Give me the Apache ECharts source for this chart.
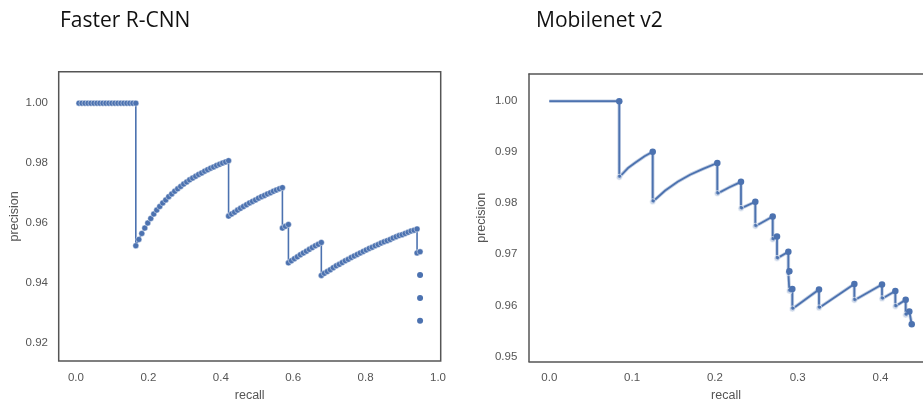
<!DOCTYPE html>
<html>
<head>
<meta charset="utf-8">
<script src="https://cdn.jsdelivr.net/npm/echarts@6/dist/echarts.min.js"></script>
<style>
html,body{margin:0;padding:0;background:#fff;}
#chart{width:923px;height:407px;}
</style>
</head>
<body>
<div id="chart"></div>
<script>
// ---------- Data ----------
const titles = ["Faster R-CNN", "Mobilenet v2"];
const xAxisName = "recall";
const yAxisName = "precision";

// Faster R-CNN: connected precision/recall points
const fasterRecall = [
0.0083,0.0165,0.0248,0.0331,0.0413,0.0496,0.0579,0.0661,0.0744,0.0826,0.0909,0.0992,0.1074,0.1157,0.1240,0.1322,0.1405,0.1488,0.1570,0.1653,
0.1653,
0.1736,0.1818,0.1901,0.1983,0.2066,0.2149,0.2231,0.2314,0.2397,0.2479,0.2562,0.2645,0.2727,0.2810,0.2893,0.2975,0.3058,0.3140,0.3223,0.3306,0.3388,0.3471,0.3554,0.3636,0.3719,0.3802,0.3884,0.3967,0.4050,0.4132,0.4215,
0.4215,
0.4298,0.4380,0.4463,0.4545,0.4628,0.4711,0.4793,0.4876,0.4959,0.5041,0.5124,0.5207,0.5289,0.5372,0.5455,0.5537,0.5620,0.5702,
0.5702,
0.5785,0.5868,
0.5868,
0.5950,0.6033,0.6116,0.6198,0.6281,0.6364,0.6446,0.6529,0.6612,0.6694,0.6777,
0.6777,
0.6860,0.6942,0.7025,0.7107,0.7190,0.7273,0.7355,0.7438,0.7521,0.7603,0.7686,0.7769,0.7851,0.7934,0.8017,0.8099,0.8182,0.8264,0.8347,0.8430,0.8512,0.8595,0.8678,0.8760,0.8843,0.8926,0.9008,0.9091,0.9174,0.9256,0.9339,0.9421,
0.9421,
0.9504
];
const fasterPrecision = [
1,1,1,1,1,1,1,1,1,1,1,1,1,1,1,1,1,1,1,1,
0.9524,
0.9545,0.9565,0.9583,0.9600,0.9615,0.9630,0.9643,0.9655,0.9667,0.9677,0.9688,0.9697,0.9706,0.9714,0.9722,0.9730,0.9737,0.9744,0.9750,0.9756,0.9762,0.9767,0.9773,0.9778,0.9783,0.9787,0.9792,0.9796,0.9800,0.9804,0.9808,
0.9623,
0.9630,0.9636,0.9643,0.9649,0.9655,0.9661,0.9667,0.9672,0.9677,0.9683,0.9688,0.9692,0.9697,0.9701,0.9706,0.9710,0.9714,0.9718,
0.9583,
0.9589,0.9595,
0.9467,
0.9474,0.9481,0.9487,0.9494,0.9500,0.9506,0.9512,0.9518,0.9524,0.9529,0.9535,
0.9425,
0.9432,0.9438,0.9444,0.9451,0.9457,0.9462,0.9468,0.9474,0.9479,0.9485,0.9490,0.9495,0.9500,0.9505,0.9510,0.9515,0.9519,0.9524,0.9528,0.9533,0.9537,0.9541,0.9545,0.9550,0.9554,0.9558,0.9561,0.9565,0.9569,0.9573,0.9576,0.9580,
0.9500,
0.9504
];
// Faster R-CNN: trailing unconnected points
const fasterTailRecall = [0.9504, 0.9504, 0.9504];
const fasterTailPrecision = [0.9426, 0.9350, 0.9274];

// Mobilenet v2
const mobRecall = [
0.0000, 0.0845, 0.0845, 0.0950, 0.1050, 0.1150, 0.1249, 0.1249, 0.1400, 0.1550, 0.1700, 0.1850, 0.2029,
0.2029, 0.2170, 0.2315, 0.2315, 0.2488, 0.2488, 0.2698, 0.2698, 0.2750, 0.2750, 0.2887, 0.2887, 0.2899,
0.2899, 0.2935, 0.2935, 0.3257, 0.3257, 0.3684, 0.3684, 0.4018, 0.4018, 0.4179, 0.4179, 0.4304, 0.4304,
0.4348, 0.4377
];
const mobPrecision = [
1.0000, 1.0000, 0.9851, 0.9869, 0.9881, 0.9892, 0.9901, 0.9803, 0.9825, 0.9842, 0.9856, 0.9867, 0.9879,
0.9819, 0.9831, 0.9842, 0.9790, 0.9803, 0.9755, 0.9774, 0.9729, 0.9735, 0.9692, 0.9705, 0.9664, 0.9667,
0.9628, 0.9632, 0.9593, 0.9631, 0.9595, 0.9642, 0.9610, 0.9641, 0.9613, 0.9628, 0.9598, 0.9611, 0.9581,
0.9588, 0.9563
];
// indices of the points that carry a visible marker
const mobPeakIdx = [1, 6, 12, 15, 17, 19, 21, 23, 25, 27, 29, 31, 33, 35, 37, 39, 40];
const mobDropIdx = [2, 7, 13, 16, 18, 20, 22, 24, 26, 28, 30, 32, 34, 36, 38];

const leftXTicks = [0.0, 0.2, 0.4, 0.6, 0.8, 1.0];
const leftYTicks = [0.92, 0.94, 0.96, 0.98, 1.00];
const rightXTicks = [0.0, 0.1, 0.2, 0.3, 0.4];
const rightYTicks = [0.95, 0.96, 0.97, 0.98, 0.99, 1.00];

// ---------- Build ----------
const BLUE = '#4c72b0';
const fasterData = fasterRecall.map((r, i) => [r, fasterPrecision[i]]);
const fasterTail = fasterTailRecall.map((r, i) => [r, fasterTailPrecision[i]]);
const mobData = mobRecall.map((r, i) => {
  const item = { value: [r, mobPrecision[i]] };
  if (mobPeakIdx.includes(i)) {
    item.symbolSize = 6.5;
  } else if (mobDropIdx.includes(i)) {
    item.symbolSize = 6;
    item.itemStyle = { color: 'rgba(76,114,176,0.28)', borderColor: 'rgba(255,255,255,0.6)', borderWidth: 1 };
  } else {
    item.symbolSize = 0;
  }
  return item;
});

const labelStyle = { color: '#555', fontSize: 11.5, fontFamily: 'Liberation Sans' };
const nameStyle = { color: '#555', fontSize: 12.5, fontFamily: 'Liberation Sans' };
const frame = { show: true, lineStyle: { color: '#555', width: 1.5 } };
const titleStyle = { fontFamily: 'Open Sans', fontSize: 21, fontWeight: 'normal', color: '#111' };

const chart = echarts.init(document.getElementById('chart'), null, { renderer: 'canvas' });
chart.setOption({
  animation: false,
  backgroundColor: '#fff',
  title: [
    { text: titles[0], left: 55, top: 6, textStyle: titleStyle },
    { text: titles[1], left: 531, top: 6, textStyle: titleStyle }
  ],
  grid: [
    { left: 58.7, right: 923 - 440.7, top: 71.7, bottom: 407 - 368, show: true, borderColor: '#555', borderWidth: 1.5, backgroundColor: 'transparent' },
    { left: 529, right: 0, top: 74, bottom: 407 - 367, show: false }
  ],
  xAxis: [
    { type: 'value', gridIndex: 0, min: -0.0477, max: 1.0074, name: xAxisName, nameLocation: 'middle', nameGap: 25, nameTextStyle: nameStyle,
      axisLine: { show: false }, axisTick: { show: false }, splitLine: { show: false },
      axisLabel: Object.assign({ margin: 11, customValues: leftXTicks, formatter: v => v.toFixed(1) }, labelStyle) },
    { type: 'value', gridIndex: 1, position: 'bottom', min: -0.0245, max: 0.4513, name: xAxisName, nameLocation: 'middle', nameGap: 24, nameTextStyle: nameStyle,
      axisLine: Object.assign({ onZero: false }, frame), axisTick: { show: false }, splitLine: { show: false },
      axisLabel: Object.assign({ margin: 10.5, customValues: rightXTicks, formatter: v => v.toFixed(1) }, labelStyle) },
    { type: 'value', gridIndex: 1, position: 'top', min: -0.0245, max: 0.4513,
      axisLine: Object.assign({ onZero: false }, frame), axisTick: { show: false }, splitLine: { show: false }, axisLabel: { show: false } }
  ],
  yAxis: [
    { type: 'value', gridIndex: 0, min: 0.9139, max: 1.0105, name: yAxisName, nameLocation: 'middle', nameGap: 38, nameRotate: 90, nameTextStyle: nameStyle,
      axisLine: { show: false }, axisTick: { show: false }, splitLine: { show: false },
      axisLabel: Object.assign({ margin: 10.7, customValues: leftYTicks, formatter: v => v.toFixed(2) }, labelStyle) },
    { type: 'value', gridIndex: 1, position: 'left', min: 0.94898, max: 1.00533, name: yAxisName, nameLocation: 'middle', nameGap: 40.5, nameRotate: 90, nameTextStyle: nameStyle,
      axisLine: Object.assign({ onZero: false }, frame), axisTick: { show: false }, splitLine: { show: false },
      axisLabel: Object.assign({ margin: 11.7, customValues: rightYTicks, formatter: v => v.toFixed(2) }, labelStyle) }
  ],
  series: [
    { type: 'line', xAxisIndex: 0, yAxisIndex: 0, data: fasterData, symbol: 'circle', symbolSize: 6, showSymbol: true,
      lineStyle: { color: BLUE, width: 1.6 }, itemStyle: { color: BLUE, borderColor: 'rgba(255,255,255,0.7)', borderWidth: 0.6 } },
    { type: 'scatter', xAxisIndex: 0, yAxisIndex: 0, data: fasterTail, symbol: 'circle', symbolSize: 6,
      itemStyle: { color: BLUE, opacity: 1 } },
    { type: 'line', xAxisIndex: 1, yAxisIndex: 1, data: mobData, symbol: 'circle', showSymbol: true,
      lineStyle: { color: 'rgba(76,114,176,0.35)', width: 3.5 }, itemStyle: { color: BLUE }, z: 2 },
    { type: 'line', xAxisIndex: 1, yAxisIndex: 1, data: mobData.map(d => d.value), symbol: 'none',
      lineStyle: { color: BLUE, width: 1.8 }, z: 1 }
  ]
});
</script>
</body>
</html>
